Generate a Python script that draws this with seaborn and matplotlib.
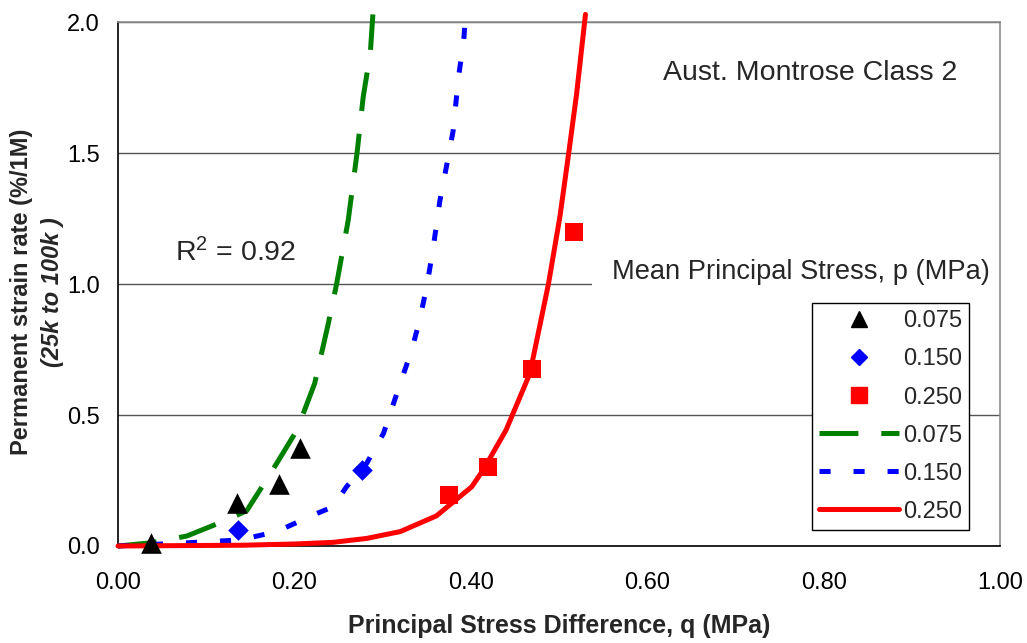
import matplotlib
matplotlib.use("Agg")
import matplotlib.pyplot as plt
import seaborn as sns
from matplotlib.lines import Line2D

# ---- data ----
tri_q = [0.037, 0.135, 0.183, 0.206]
tri_y = [0.010, 0.164, 0.237, 0.373]
dia_q = [0.136, 0.277]
dia_y = [0.061, 0.290]
sq_q = [0.375, 0.420, 0.469, 0.517]
sq_y = [0.195, 0.300, 0.675, 1.200]

green_q = [0.000, 0.037, 0.078, 0.123, 0.146, 0.161, 0.180, 0.203, 0.223, 0.238,
           0.248, 0.261, 0.271, 0.278, 0.286, 0.289]
green_y = [0.000, 0.012, 0.038, 0.099, 0.135, 0.214, 0.316, 0.443, 0.621, 0.843,
           1.003, 1.244, 1.500, 1.715, 1.880, 2.030]
blue_q = [0.000, 0.066, 0.138, 0.180, 0.221, 0.244, 0.259, 0.282, 0.301, 0.320,
          0.333, 0.342, 0.350, 0.357, 0.365, 0.373, 0.380, 0.386, 0.392, 0.394]
blue_y = [0.000, 0.010, 0.023, 0.055, 0.118, 0.150, 0.226, 0.316, 0.430, 0.621,
          0.748, 0.863, 0.990, 1.130, 1.320, 1.460, 1.586, 1.790, 1.930, 2.030]
red_q = [0.000, 0.142, 0.203, 0.244, 0.282, 0.320, 0.361, 0.401, 0.414, 0.440,
         0.467, 0.488, 0.501, 0.511, 0.520, 0.530]
red_y = [0.000, 0.003, 0.008, 0.014, 0.029, 0.055, 0.115, 0.226, 0.290, 0.443,
         0.659, 1.000, 1.257, 1.500, 1.728, 2.030]

labels = ["0.075", "0.150", "0.250"]
x_ticks = [0.0, 0.2, 0.4, 0.6, 0.8, 1.0]
y_ticks = [0.0, 0.5, 1.0, 1.5, 2.0]

sns.set_style("white")
plt.rcParams["font.family"] = ["Liberation Sans", "DejaVu Sans"]
plt.rcParams["mathtext.fontset"] = "custom"
plt.rcParams["mathtext.rm"] = "Liberation Sans"
plt.rcParams["mathtext.default"] = "regular"
plt.rcParams["lines.scale_dashes"] = False

fig = plt.figure(figsize=(10.27, 6.43), dpi=100)
ax = fig.add_axes([118 / 1027, 1 - 546 / 643, 882 / 1027, 523.7 / 643])

GREEN, BLUE, RED = "#008000", "#0000FF", "#FF0000"
LW = 3.6
green_ls = (0, (28, 16.5))
blue_ls = (0, (8, 16.5))

sns.lineplot(x=green_q, y=green_y, ax=ax, color=GREEN, lw=LW, linestyle=green_ls,
             sort=False, estimator=None, legend=False, clip_on=False, zorder=3)
sns.lineplot(x=blue_q, y=blue_y, ax=ax, color=BLUE, lw=LW, linestyle=blue_ls,
             sort=False, estimator=None, legend=False, clip_on=False, zorder=3)
sns.lineplot(x=red_q, y=red_y, ax=ax, color=RED, lw=LW, linestyle="-",
             sort=False, estimator=None, legend=False, clip_on=False, zorder=3,
             solid_capstyle="round")

sns.scatterplot(x=tri_q, y=tri_y, ax=ax, marker="^", s=220, color="black",
                linewidth=0, legend=False, clip_on=False, zorder=4)
sns.scatterplot(x=dia_q, y=dia_y, ax=ax, marker="D", s=110, color=BLUE,
                linewidth=0, legend=False, clip_on=False, zorder=4)
sns.scatterplot(x=sq_q, y=sq_y, ax=ax, marker="s", s=180, color=RED,
                linewidth=0, legend=False, clip_on=False, zorder=4)

ax.set_xlim(0, 1.0)
ax.set_ylim(0, 2.0)
ax.set_xticks(x_ticks)
ax.set_xticklabels([f"{v:.2f}" for v in x_ticks])
ax.set_yticks(y_ticks)
ax.set_yticklabels([f"{v:.1f}" for v in y_ticks])
ax.tick_params(axis="both", which="major", direction="out", length=7, width=1,
               color="black", labelsize=17, labelcolor="black")
ax.tick_params(axis="x", pad=12)
ax.tick_params(axis="y", pad=6)

ax.set_axisbelow(True)
ax.yaxis.grid(True, color="#555555", lw=1)
ax.xaxis.grid(False)
for side in ["left", "bottom"]:
    ax.spines[side].set_color("black")
    ax.spines[side].set_linewidth(1.2)
for side in ["top", "right"]:
    ax.spines[side].set_visible(True)
    ax.spines[side].set_color("#8c8c8c")
    ax.spines[side].set_linewidth(1.2)

ax.set_xlabel("Principal Stress Difference, q (MPa)", fontsize=18,
              fontweight="bold", labelpad=14)
ax.set_ylabel("")
fig.text(22 / 1027, 0.546, "Permanent strain rate (%/1M)", rotation=90,
         ha="center", va="center", fontsize=17, fontweight="bold")
fig.text(53 / 1027, 0.546, "(25k to 100k )", rotation=90, ha="center",
         va="center", fontsize=17, fontweight="bold", fontstyle="italic")

ax.text(0.951, 0.903, "Aust. Montrose Class 2", transform=ax.transAxes,
        ha="right", va="center", fontsize=20.5)
ax.text(0.0646, 0.561, "R$^{2}$ = 0.92", transform=ax.transAxes,
        ha="left", va="center", fontsize=20.5)
ax.text(0.560, 0.523, "Mean Principal Stress, p (MPa)", transform=ax.transAxes,
        ha="left", va="center", fontsize=19.6, zorder=2,
        bbox=dict(boxstyle="square,pad=0.75", facecolor="white",
                  edgecolor="none"))

handles = [
    Line2D([], [], marker="^", linestyle="none", color="black", markersize=12),
    Line2D([], [], marker="D", linestyle="none", color=BLUE, markersize=8.5),
    Line2D([], [], marker="s", linestyle="none", color=RED, markersize=11),
    Line2D([], [], color=GREEN, lw=LW, linestyle=green_ls),
    Line2D([], [], color=BLUE, lw=LW, linestyle=blue_ls),
    Line2D([], [], color=RED, lw=LW, linestyle="-", solid_capstyle="round"),
]
leg = ax.legend(handles, labels + labels, loc="lower right",
                bbox_to_anchor=(0.965, 0.031), borderaxespad=0, fontsize=17,
                frameon=True, fancybox=False, shadow=False, framealpha=1,
                edgecolor="black", facecolor="white", borderpad=0.3,
                handletextpad=0.15, handlelength=3.4, labelspacing=0.68)
leg.get_frame().set_linewidth(1.0)
leg.set_zorder(5)

fig.savefig("out.png", dpi=100, facecolor="white")
